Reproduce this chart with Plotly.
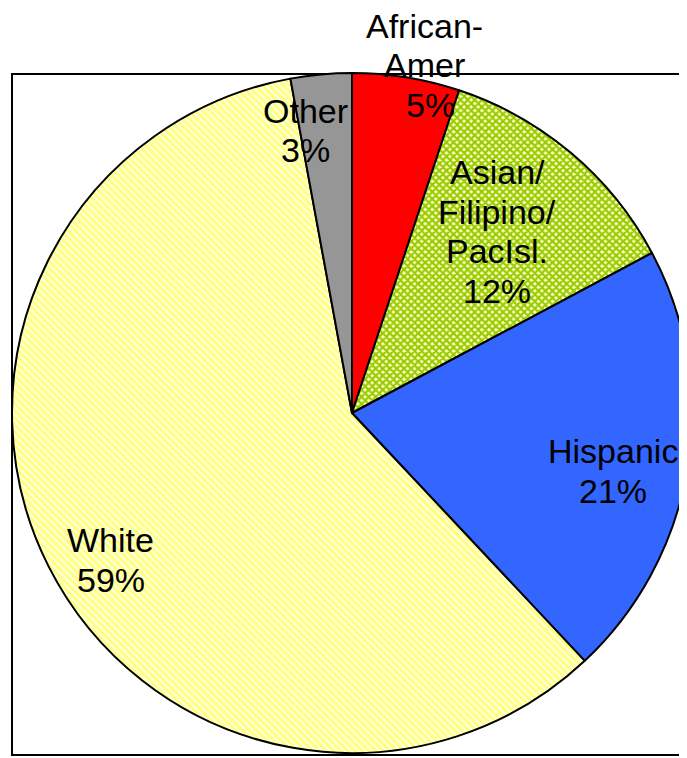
import plotly.graph_objects as go

# ---- data ----
categories = ["African-Amer", "Asian/Filipino/PacIsl.", "Hispanic", "White", "Other"]
values = [5.1, 12.1, 20.8, 59.1, 2.9]
label_lines = [["African-", "Amer"], ["Asian/", "Filipino/", "PacIsl."], ["Hispanic"], ["White"], ["Other"]]

# ---- styles ----
OFF = 8  # page body margin
W, H = 700, 750
colors = ["#FF0000", "#99CC00", "#3366FF", "#FFFF99", "#969696"]
pat_shapes = ["", "x", "", "\\", ""]
pat_fg = ["#FF0000", "#99CC00", "#3366FF", "#FFFF80", "#969696"]
pat_bg = ["#FF0000", "#FFFFCC", "#3366FF", "#FFFFFF", "#969696"]
# label anchor (page pixel) positions: first line center
label_pos = [(424, 26), (497, 172), (613, 451), (111, 540), (305, 111)]
line_gap = 39.5
font = dict(family="Liberation Sans, Arial, sans-serif", size=34, color="black")

total = sum(values)
pct_text = [f"{round(v / total * 100)}%" for v in values]

cx, cy, r = 352 - OFF, 413 - OFF, 340
fig = go.Figure(go.Pie(
    labels=categories,
    values=values,
    sort=False,
    direction="clockwise",
    rotation=0,
    textinfo="none",
    hoverinfo="label+percent",
    marker=dict(
        colors=colors,
        line=dict(color="black", width=2),
        pattern=dict(shape=pat_shapes, fgcolor=pat_fg, bgcolor=pat_bg,
                     size=5, solidity=0.7),
    ),
    domain=dict(x=[(cx - r) / W, min(1.0, (cx + r) / W)],
                y=[max(0.0, 1 - (cy + r) / H), 1 - (cy - r) / H]),
    showlegend=False,
))

annotations = []
for lines, pct, (x, y) in zip(label_lines, pct_text, label_pos):
    all_lines = lines + [pct]
    for i, t in enumerate(all_lines):
        xx = x
        if t == pct and lines == ["African-", "Amer"]:
            xx = x + 6
        annotations.append(dict(
            x=(xx - OFF) / W, y=1 - (y - OFF + i * line_gap) / H, xref="paper", yref="paper",
            text=t, showarrow=False, font=font, xanchor="center", yanchor="middle",
        ))

fig.update_layout(
    width=W, height=H,
    margin=dict(l=0, r=0, t=0, b=0),
    paper_bgcolor="white", plot_bgcolor="white",
    annotations=annotations,
    shapes=[dict(type="rect", xref="paper", yref="paper",
                 x0=(12 - OFF) / W, x1=1.05, y0=1 - (755 - OFF) / H, y1=1 - (74 - OFF) / H,
                 line=dict(color="black", width=2), layer="below")],
)

fig.write_html("out.html")
